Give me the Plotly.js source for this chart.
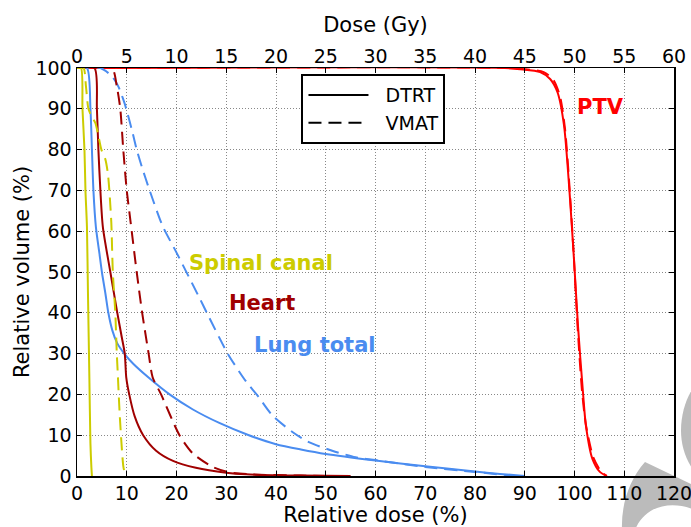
<!DOCTYPE html>
<html>
<head>
<meta charset="utf-8">
<script src="https://cdn.plot.ly/plotly-3.0.1.min.js"></script>
<style>html,body{margin:0;padding:0;background:#fff;}#chart{width:691px;height:527px;}</style>
</head>
<body>
<div id="chart"></div>
<script>
// Relative dose (%) / relative volume (%) per structure and technique
const spinalDtrtX = [0, 0.8, 1.1, 1.5, 1.7, 2.0, 2.2, 2.5, 2.7, 2.9, 3.0];
const spinalDtrtY = [100, 100, 90, 80, 70, 61, 45, 23, 8, 2, 0];
const spinalVmatX = [0, 1.3, 1.8, 2.3, 3.0, 3.7, 4.2, 4.9, 5.7, 6.2, 6.5, 6.9, 7.2, 7.7, 8.0, 8.2, 8.6, 9.3, 9.7];
const spinalVmatY = [100, 100, 95.5, 90, 88, 86.5, 84, 80, 77.6, 74.2, 70, 62, 50, 40, 30, 25, 14.7, 2.5, 0];

const heartDtrtX = [0, 3.5, 4.0, 4.3, 4.7, 5.2, 6.7, 8.1, 9.0, 9.6, 9.9, 10.5, 11.6, 13.3, 15.9, 19.3, 23.9, 30, 34, 45, 55];
const heartDtrtY = [100, 100, 90, 80, 70, 61, 50, 40, 34, 30, 24.2, 20, 14.6, 10, 6.2, 3.7, 2.0, 0.8, 0.4, 0.1, 0];
const heartVmatX = [0, 7.0, 8.0, 8.7, 9.3, 10.0, 10.8, 12.0, 13.1, 14.4, 15.2, 16.9, 20.6, 23.3, 27.3, 30.6, 35, 45, 50];
const heartVmatY = [100, 100, 95.5, 90, 80, 70, 62, 50, 40, 30, 24.2, 20, 10, 5.5, 2.2, 0.9, 0.4, 0.1, 0];

const lungDtrtX = [0, 2.0, 2.7, 3.0, 3.3, 3.8, 4.5, 5.0, 5.7, 6.3, 7.1, 8.1, 9.5, 11.3, 14.5, 18.6, 23.3, 28.6, 34.3, 40, 45, 50, 60, 70, 80, 85, 90];
const lungDtrtY = [100, 100, 90, 80, 70, 61, 54.6, 50, 44.8, 40, 35.7, 32.5, 30, 27.5, 24, 20, 16.3, 13, 10.1, 7.8, 6.5, 5.4, 3.8, 2.4, 1.1, 0.5, 0];
const lungVmatX = [0, 4.7, 7.0, 8.3, 9.3, 9.9, 11.2, 12.0, 13.0, 14.6, 17.2, 19.9, 24.8, 26.1, 30.3, 33.9, 36.3, 39.3, 43.3, 46.6, 51.3, 56, 60, 70, 80, 88];
const lungVmatY = [100, 100, 98, 95.5, 92.3, 90, 84, 80, 75.9, 70, 61.3, 55, 43.2, 40, 30, 23.3, 19.7, 14.8, 10.8, 8.3, 6.2, 4.6, 3.9, 2.2, 1.0, 0];

const ptvDtrtX = [0, 86, 89.1, 93.1, 95.1, 96.6, 97.9, 99.0, 99.9, 100.7, 101.7, 102.3, 103.6, 105.1, 106.5];
const ptvDtrtY = [100, 100, 99.7, 99, 97.3, 94, 85.9, 69.6, 53, 36.8, 20.5, 12.3, 4.2, 1, 0];
const ptvVmatX = [0, 87, 90, 93.8, 95.8, 97.1, 98.1, 99.1, 99.9, 100.6, 101.5, 102.3, 103.8, 105.4, 106.5];
const ptvVmatY = [100, 100, 99.7, 99, 97, 93, 85, 69, 53, 37, 21, 12.5, 4.5, 1, 0];

const legendNames = ["DTRT", "VMAT"];
const structureLabels = ["Spinal canal", "Heart", "Lung total", "PTV"];
const labelX = [22.7, 30.8, 35.8, 100.8];
const labelY = [52.2, 42.4, 32.1, 90.4];

const xTickVals = [0, 10, 20, 30, 40, 50, 60, 70, 80, 90, 100, 110, 120];
const yTickVals = [0, 10, 20, 30, 40, 50, 60, 70, 80, 90, 100];
const gyTickVals = [0, 5, 10, 15, 20, 25, 30, 35, 40, 45, 50, 55, 60];

const cYellow = "#cccc00", cHeart = "#a00000", cLung = "#4a8cf0", cPtv = "#ff0000";
const dashStyle = "13px,7px";
const FONT = "DejaVu Sans";

function tr(x, y, color, dashed) {
  return {x: x, y: y, type: "scatter", mode: "lines", showlegend: false, hoverinfo: "skip",
    line: {color: color, width: 2, shape: "spline", smoothing: 0.7, dash: dashed ? dashStyle : "solid"}};
}

const traces = [
  tr(ptvDtrtX, ptvDtrtY, cPtv, false),
  tr(ptvVmatX, ptvVmatY, cPtv, true),
  tr(lungDtrtX, lungDtrtY, cLung, false),
  tr(lungVmatX, lungVmatY, cLung, true),
  tr(heartDtrtX, heartDtrtY, cHeart, false),
  tr(heartVmatX, heartVmatY, cHeart, true),
  tr(spinalDtrtX, spinalDtrtY, cYellow, false),
  tr(spinalVmatX, spinalVmatY, cYellow, true),
  // legend entries
  {x: [null], y: [null], type: "scatter", mode: "lines", name: "&nbsp;&nbsp;" + legendNames[0], line: {color: "#000", width: 2}},
  {x: [null], y: [null], type: "scatter", mode: "lines", name: "&nbsp;&nbsp;" + legendNames[1], line: {color: "#000", width: 2, dash: dashStyle}},
  // top axis carrier
  {x: [gyTickVals[0], gyTickVals[gyTickVals.length - 1]], y: [null, null], xaxis: "x2", type: "scatter", mode: "lines", showlegend: false, hoverinfo: "skip"}
];

const annColors = [cYellow, cHeart, cLung, cPtv];
const annotations = structureLabels.map((t, i) => ({
  x: labelX[i], y: labelY[i], xref: "x", yref: "y", text: "<b>" + t + "</b>", showarrow: false,
  xanchor: "left", yanchor: "middle", xshift: -3, font: {family: FONT, size: 21, color: annColors[i]}
}));

// faint watermark fragments at bottom-right (pixel -> paper conversion)
const PL = 77, PW = 597, PT = 68, PH = 408;
function px(x) { return (x - PL) / PW; }
function py(y) { return (PT + PH - y) / PH; }
function pathFrom(cmds) {
  return cmds.map(c => c[0] + " " + c.slice(1).map((v, i) => (i % 2 === 0 ? px(v) : py(v)).toFixed(4)).join(",")).join(" ") + " Z";
}
const wm = "#bbbbbb";
const shapes = [
  {type: "path", xref: "paper", yref: "paper", layer: "below", fillcolor: wm, line: {width: 0},
    path: pathFrom([["M", 695, 385], ["C", 680, 405, 673, 445, 695, 472]])},
  {type: "path", xref: "paper", yref: "paper", layer: "below", fillcolor: wm, line: {width: 0},
    path: pathFrom([["M", 645, 462], ["L", 695, 486], ["L", 695, 510], ["C", 672, 500, 645, 505, 635, 530], ["L", 622, 530], ["C", 621, 505, 629, 480, 645, 462]])}
];

const layout = {
  width: 691, height: 527,
  margin: {l: PL, r: 691 - PL - PW, t: PT, b: 527 - PT - PH},
  paper_bgcolor: "#fff", plot_bgcolor: "rgba(0,0,0,0)",
  font: {family: FONT, size: 19, color: "#000"},
  showlegend: true,
  legend: {x: 0.376, y: 0.985, xanchor: "left", yanchor: "top", bgcolor: "#fff",
    bordercolor: "#000", borderwidth: 2, font: {family: FONT, size: 19}, itemwidth: 60,
    tracegroupgap: 4},
  xaxis: {range: [0, 120], tickvals: xTickVals, ticks: "inside", ticklen: 5, tickcolor: "#000",
    showline: true, linecolor: "#000", linewidth: 1.5, mirror: true, zeroline: false,
    showgrid: true, gridcolor: "#888", griddash: "1px,2px", gridwidth: 1,
    ticklabeloverflow: "allow",
    title: {text: "Relative dose (%)", font: {family: FONT, size: 21}, standoff: 6},
    tickfont: {family: FONT, size: 19}},
  xaxis2: {range: [0, 60], tickvals: gyTickVals, overlaying: "x", side: "top", ticks: "inside", ticklen: 5,
    tickcolor: "#000", showgrid: false, zeroline: false, showline: false, ticklabeloverflow: "allow",
    title: {text: "Dose (Gy)", font: {family: FONT, size: 21}, standoff: 6},
    tickfont: {family: FONT, size: 19}},
  yaxis: {range: [0, 100], tickvals: yTickVals, ticks: "inside", ticklen: 5, tickcolor: "#000",
    showline: true, linecolor: "#000", linewidth: 1.5, mirror: "ticks", zeroline: false,
    showgrid: true, gridcolor: "#888", griddash: "1px,2px", gridwidth: 1,
    title: {text: "Relative volume (%)", font: {family: FONT, size: 21}, standoff: 0},
    tickfont: {family: FONT, size: 19}},
  annotations: annotations,
  shapes: shapes
};

Plotly.newPlot("chart", traces, layout, {displayModeBar: false, staticPlot: true});
</script>
</body>
</html>
